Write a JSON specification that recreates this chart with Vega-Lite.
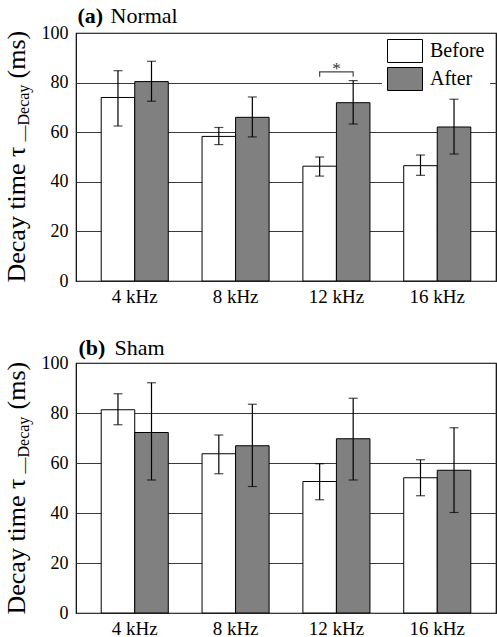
{
  "$schema": "https://vega.github.io/schema/vega-lite/v6.json",
  "padding": {"top": 3, "left": 2, "right": 0, "bottom": 0},
  "datasets": {
    "normal": [
      {"freq": "4 kHz", "cond": "Before", "mean": 74.0, "lo": 62.5, "hi": 84.8},
      {"freq": "4 kHz", "cond": "After", "mean": 80.4, "lo": 72.5, "hi": 88.6},
      {"freq": "8 kHz", "cond": "Before", "mean": 58.3, "lo": 55.0, "hi": 61.9},
      {"freq": "8 kHz", "cond": "After", "mean": 66.0, "lo": 58.1, "hi": 74.2},
      {"freq": "12 kHz", "cond": "Before", "mean": 46.3, "lo": 42.3, "hi": 50.0},
      {"freq": "12 kHz", "cond": "After", "mean": 71.9, "lo": 63.3, "hi": 80.8},
      {"freq": "16 kHz", "cond": "Before", "mean": 46.5, "lo": 42.6, "hi": 50.8},
      {"freq": "16 kHz", "cond": "After", "mean": 62.1, "lo": 51.2, "hi": 73.3}
    ],
    "sham": [
      {"freq": "4 kHz", "cond": "Before", "mean": 81.3, "lo": 75.3, "hi": 87.7},
      {"freq": "4 kHz", "cond": "After", "mean": 72.2, "lo": 53.2, "hi": 92.1},
      {"freq": "8 kHz", "cond": "Before", "mean": 63.7, "lo": 55.7, "hi": 71.2},
      {"freq": "8 kHz", "cond": "After", "mean": 66.9, "lo": 50.6, "hi": 83.5},
      {"freq": "12 kHz", "cond": "Before", "mean": 52.6, "lo": 45.3, "hi": 59.7},
      {"freq": "12 kHz", "cond": "After", "mean": 69.7, "lo": 53.2, "hi": 85.9},
      {"freq": "16 kHz", "cond": "Before", "mean": 54.1, "lo": 46.9, "hi": 61.3},
      {"freq": "16 kHz", "cond": "After", "mean": 57.1, "lo": 40.2, "hi": 74.1}
    ],
    "bracket": [
      {"freq": "12 kHz", "cond": "Before", "y": 82.4, "o": 1},
      {"freq": "12 kHz", "cond": "Before", "y": 84.3, "o": 2},
      {"freq": "12 kHz", "cond": "After", "y": 84.3, "o": 3},
      {"freq": "12 kHz", "cond": "After", "y": 82.4, "o": 4}
    ],
    "star": [
      {"freq": "12 kHz", "label": "*", "y": 87.4}
    ]
  },
  "vconcat": [
    {
      "width": 420,
      "height": 248,
      "resolve": {"scale": {"x": "shared", "y": "shared"}, "axis": {"x": "independent", "y": "independent"}},
      "layer": [
        {
          "data": {"name": "normal"},
          "mark": {"type": "bar", "stroke": "black", "strokeWidth": 1},
          "encoding": {
            "x": {"field": "freq", "type": "nominal", "sort": ["4 kHz", "8 kHz", "12 kHz", "16 kHz"],
                  "scale": {"paddingInner": 0.335, "paddingOuter": 0.25},
                  "axis": {"orient": "bottom", "title": null, "labelAngle": 0, "labelFont": "Liberation Serif", "labelFontSize": 19, "labelColor": "black", "labelPadding": 6, "ticks": false, "domain": false}},
            "xOffset": {"field": "cond", "type": "nominal", "sort": ["Before", "After"], "scale": {"paddingInner": 0, "paddingOuter": 0}},
            "y": {"field": "mean", "type": "quantitative", "scale": {"domain": [0, 100], "nice": false},
                  "axis": {"orient": "left", "values": [0, 20, 40, 60, 80, 100], "labelFont": "Liberation Serif", "labelFontSize": 18, "labelColor": "black", "labelPadding": 8, "ticks": false, "domain": false,
                           "grid": true, "gridColor": "#3a3a3a", "gridWidth": 1, "gridOpacity": 1,
                           "title": "Decay time τ", "titleFont": "Liberation Serif", "titleFontSize": 26, "titleFontWeight": "normal", "titleColor": "black",
                           "titleAngle": 270, "titleAlign": "left", "titleBaseline": "alphabetic", "titleX": -52, "titleY": 249}},
            "color": {"field": "cond", "type": "nominal", "sort": ["Before", "After"],
                      "scale": {"domain": ["Before", "After"], "range": ["#ffffff", "#808080"]},
                      "legend": {"title": null, "orient": "none", "legendX": 306, "legendY": 1, "padding": 5, "fillColor": "white",
                                 "symbolType": "M-1,-1H1V0.314H-1Z", "symbolSize": 1225, "symbolStrokeColor": "black", "symbolStrokeWidth": 1, "symbolOpacity": 1,
                                 "labelFont": "Liberation Serif", "labelFontSize": 20, "labelColor": "black", "labelOffset": 7, "labelBaseline": "alphabetic", "rowPadding": 0}}
          }
        },
        {
          "data": {"name": "normal"},
          "mark": {"type": "rule", "color": "black", "strokeWidth": 1.2},
          "encoding": {
            "x": {"field": "freq", "type": "nominal", "sort": ["4 kHz", "8 kHz", "12 kHz", "16 kHz"],
                  "axis": {"orient": "top", "labels": false, "ticks": false, "domain": false, "grid": false,
                           "title": "Normal", "titleFont": "Liberation Serif", "titleFontSize": 22, "titleFontWeight": "normal", "titleColor": "black",
                           "titleAlign": "left", "titleBaseline": "alphabetic", "titleX": 34, "titleY": -11}},
            "xOffset": {"field": "cond", "type": "nominal", "sort": ["Before", "After"]},
            "y": {"field": "lo", "type": "quantitative",
                  "axis": {"orient": "left", "labels": false, "ticks": false, "domain": false, "grid": false,
                           "title": "—Decay", "titleFont": "Liberation Serif", "titleFontSize": 16, "titleFontWeight": "normal", "titleColor": "black",
                           "titleAngle": 270, "titleAlign": "left", "titleBaseline": "alphabetic", "titleX": -48, "titleY": 108}},
            "y2": {"field": "hi"}
          }
        },
        {
          "data": {"name": "normal"},
          "transform": [{"fold": ["lo", "hi"], "as": ["end", "val"]}],
          "mark": {"type": "tick", "orient": "horizontal", "size": 9, "thickness": 1.2, "color": "black"},
          "encoding": {
            "x": {"field": "freq", "type": "nominal", "sort": ["4 kHz", "8 kHz", "12 kHz", "16 kHz"],
                  "axis": {"orient": "top", "labels": false, "ticks": false, "domain": false, "grid": false,
                           "title": "(a)", "titleFont": "Liberation Serif", "titleFontSize": 22, "titleFontWeight": "bold", "titleColor": "black",
                           "titleAlign": "left", "titleBaseline": "alphabetic", "titleX": 1, "titleY": -11}},
            "xOffset": {"field": "cond", "type": "nominal", "sort": ["Before", "After"]},
            "y": {"field": "val", "type": "quantitative",
                  "axis": {"orient": "left", "labels": false, "ticks": false, "domain": false, "grid": false,
                           "title": "(ms)", "titleFont": "Liberation Serif", "titleFontSize": 26, "titleFontWeight": "normal", "titleColor": "black",
                           "titleAngle": 270, "titleAlign": "left", "titleBaseline": "alphabetic", "titleX": -52, "titleY": 45}}
          }
        },
        {
          "data": {"name": "bracket"},
          "mark": {"type": "line", "color": "#444444", "strokeWidth": 1.2},
          "encoding": {
            "x": {"field": "freq", "type": "nominal", "sort": ["4 kHz", "8 kHz", "12 kHz", "16 kHz"], "axis": null},
            "xOffset": {"field": "cond", "type": "nominal", "sort": ["Before", "After"]},
            "y": {"field": "y", "type": "quantitative", "axis": null},
            "order": {"field": "o"}
          }
        },
        {
          "data": {"name": "star"},
          "mark": {"type": "text", "font": "Liberation Serif", "fontSize": 17, "baseline": "middle", "dy": 5, "color": "#333333"},
          "encoding": {
            "x": {"field": "freq", "type": "nominal", "sort": ["4 kHz", "8 kHz", "12 kHz", "16 kHz"], "axis": null},
            "y": {"field": "y", "type": "quantitative", "axis": null},
            "text": {"field": "label"}
          }
        }
      ]
    },
    {
      "width": 420,
      "height": 250,
      "resolve": {"scale": {"x": "shared", "y": "shared"}, "axis": {"x": "independent", "y": "independent"}},
      "layer": [
        {
          "data": {"name": "sham"},
          "mark": {"type": "bar", "stroke": "black", "strokeWidth": 1},
          "encoding": {
            "x": {"field": "freq", "type": "nominal", "sort": ["4 kHz", "8 kHz", "12 kHz", "16 kHz"],
                  "scale": {"paddingInner": 0.335, "paddingOuter": 0.25},
                  "axis": {"orient": "bottom", "title": null, "labelAngle": 0, "labelFont": "Liberation Serif", "labelFontSize": 19, "labelColor": "black", "labelPadding": 6, "ticks": false, "domain": false}},
            "xOffset": {"field": "cond", "type": "nominal", "sort": ["Before", "After"], "scale": {"paddingInner": 0, "paddingOuter": 0}},
            "y": {"field": "mean", "type": "quantitative", "scale": {"domain": [0, 100], "nice": false},
                  "axis": {"orient": "left", "values": [0, 20, 40, 60, 80, 100], "labelFont": "Liberation Serif", "labelFontSize": 18, "labelColor": "black", "labelPadding": 8, "ticks": false, "domain": false,
                           "grid": true, "gridColor": "#3a3a3a", "gridWidth": 1, "gridOpacity": 1,
                           "title": "Decay time τ", "titleFont": "Liberation Serif", "titleFontSize": 26, "titleFontWeight": "normal", "titleColor": "black",
                           "titleAngle": 270, "titleAlign": "left", "titleBaseline": "alphabetic", "titleX": -52, "titleY": 251}},
            "color": {"field": "cond", "type": "nominal", "sort": ["Before", "After"],
                      "scale": {"domain": ["Before", "After"], "range": ["#ffffff", "#808080"]},
                      "legend": {"title": null, "orient": "none", "legendX": 306, "legendY": 1, "padding": 5, "fillColor": "white",
                                 "symbolType": "M-1,-1H1V0.314H-1Z", "symbolSize": 1225, "symbolStrokeColor": "black", "symbolStrokeWidth": 1, "symbolOpacity": 1,
                                 "labelFont": "Liberation Serif", "labelFontSize": 20, "labelColor": "black", "labelOffset": 7, "labelBaseline": "alphabetic", "rowPadding": 0}}
          }
        },
        {
          "data": {"name": "sham"},
          "mark": {"type": "rule", "color": "black", "strokeWidth": 1.2},
          "encoding": {
            "x": {"field": "freq", "type": "nominal", "sort": ["4 kHz", "8 kHz", "12 kHz", "16 kHz"],
                  "axis": {"orient": "top", "labels": false, "ticks": false, "domain": false, "grid": false,
                           "title": "Sham", "titleFont": "Liberation Serif", "titleFontSize": 22, "titleFontWeight": "normal", "titleColor": "black",
                           "titleAlign": "left", "titleBaseline": "alphabetic", "titleX": 38, "titleY": -9}},
            "xOffset": {"field": "cond", "type": "nominal", "sort": ["Before", "After"]},
            "y": {"field": "lo", "type": "quantitative",
                  "axis": {"orient": "left", "labels": false, "ticks": false, "domain": false, "grid": false,
                           "title": "—Decay", "titleFont": "Liberation Serif", "titleFontSize": 16, "titleFontWeight": "normal", "titleColor": "black",
                           "titleAngle": 270, "titleAlign": "left", "titleBaseline": "alphabetic", "titleX": -48, "titleY": 110}},
            "y2": {"field": "hi"}
          }
        },
        {
          "data": {"name": "sham"},
          "transform": [{"fold": ["lo", "hi"], "as": ["end", "val"]}],
          "mark": {"type": "tick", "orient": "horizontal", "size": 9, "thickness": 1.2, "color": "black"},
          "encoding": {
            "x": {"field": "freq", "type": "nominal", "sort": ["4 kHz", "8 kHz", "12 kHz", "16 kHz"],
                  "axis": {"orient": "top", "labels": false, "ticks": false, "domain": false, "grid": false,
                           "title": "(b)", "titleFont": "Liberation Serif", "titleFontSize": 22, "titleFontWeight": "bold", "titleColor": "black",
                           "titleAlign": "left", "titleBaseline": "alphabetic", "titleX": 2, "titleY": -9}},
            "xOffset": {"field": "cond", "type": "nominal", "sort": ["Before", "After"]},
            "y": {"field": "val", "type": "quantitative",
                  "axis": {"orient": "left", "labels": false, "ticks": false, "domain": false, "grid": false,
                           "title": "(ms)", "titleFont": "Liberation Serif", "titleFontSize": 26, "titleFontWeight": "normal", "titleColor": "black",
                           "titleAngle": 270, "titleAlign": "left", "titleBaseline": "alphabetic", "titleX": -52, "titleY": 46}}
          }
        }
      ]
    }
  ],
  "spacing": 28,
  "config": {
    "font": "Liberation Serif",
    "view": {"stroke": "black", "strokeWidth": 1.2},
    "axis": {"labelFont": "Liberation Serif", "titleFont": "Liberation Serif"},
    "legend": {"labelFont": "Liberation Serif"},
    "text": {"font": "Liberation Serif"}
  }
}
